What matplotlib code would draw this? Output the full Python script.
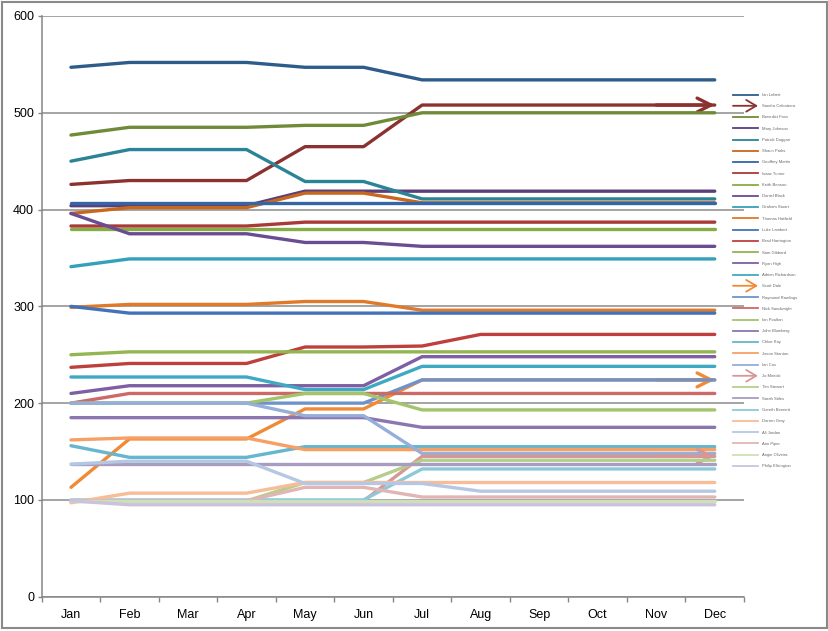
import matplotlib
matplotlib.use("Agg")
import matplotlib.pyplot as plt
from matplotlib.lines import Line2D
from matplotlib.patches import FancyArrowPatch, Rectangle
from matplotlib.legend_handler import HandlerBase

months = ["Jan", "Feb", "Mar", "Apr", "May", "Jun", "Jul", "Aug", "Sep", "Oct", "Nov", "Dec"]

names = ["Ian Lebert", "Sandra Calcaterra", "Benedict Foss", "Mary Johnson", "Patrick Duggan",
         "Shaun Parks", "Geoffrey Martin", "Isaac Turner", "Keith Benson", "Daniel Black",
         "Graham Stuart", "Thomas Hatfield", "Luke Lambert", "Brad Harrington", "Sam Gibbard",
         "Ryan High", "Adrian Richardson", "Scott Dale", "Raymond Rawlings", "Nick Sandwright",
         "Ian Poulton", "John Blumberg", "Chloe Kay", "Jason Stanton", "Ian Cox",
         "Jo Mirecki", "Tim Stewart", "Sarah Stiles", "Gareth Bennett", "Darren Gray",
         "Ali Jordan", "Ann Piper", "Angie Oliveira", "Philip Ellsington"]

s01 = [547, 552, 552, 552, 547, 547, 534, 534, 534, 534, 534, 534]
s02 = [426, 430, 430, 430, 465, 465, 508, 508, 508, 508, 508, 508]
s03 = [477, 485, 485, 485, 487, 487, 500, 500, 500, 500, 500, 500]
s04 = [404, 404, 404, 404, 419, 419, 419, 419, 419, 419, 419, 419]
s05 = [450, 462, 462, 462, 429, 429, 411, 411, 411, 411, 411, 411]
s06 = [396, 402, 402, 402, 417, 417, 407, 407, 407, 407, 407, 407]
s07 = [407, 407, 407, 407, 407, 407, 407, 407, 407, 407, 407, 407]
s08 = [383, 383, 383, 383, 387, 387, 387, 387, 387, 387, 387, 387]
s09 = [380, 380, 380, 380, 380, 380, 380, 380, 380, 380, 380, 380]
s10 = [396, 375, 375, 375, 366, 366, 362, 362, 362, 362, 362, 362]
s11 = [341, 349, 349, 349, 349, 349, 349, 349, 349, 349, 349, 349]
s12 = [299, 302, 302, 302, 305, 305, 296, 296, 296, 296, 296, 296]
s13 = [300, 293, 293, 293, 293, 293, 293, 293, 293, 293, 293, 293]
s14 = [237, 241, 241, 241, 258, 258, 259, 271, 271, 271, 271, 271]
s15 = [250, 253, 253, 253, 253, 253, 253, 253, 253, 253, 253, 253]
s16 = [210, 218, 218, 218, 218, 218, 248, 248, 248, 248, 248, 248]
s17 = [227, 227, 227, 227, 214, 214, 238, 238, 238, 238, 238, 238]
s18 = [113, 163, 163, 163, 194, 194, 224, 224, 224, 224, 224, 224]
s19 = [200, 200, 200, 200, 200, 200, 224, 224, 224, 224, 224, 224]
s20 = [200, 210, 210, 210, 210, 210, 210, 210, 210, 210, 210, 210]
s21 = [200, 200, 200, 200, 210, 210, 193, 193, 193, 193, 193, 193]
s22 = [185, 185, 185, 185, 185, 185, 175, 175, 175, 175, 175, 175]
s23 = [156, 144, 144, 144, 155, 155, 155, 155, 155, 155, 155, 155]
s24 = [162, 164, 164, 164, 152, 152, 152, 152, 152, 152, 152, 152]
s25 = [200, 200, 200, 200, 187, 187, 148, 148, 148, 148, 148, 148]
s26 = [99, 99, 99, 99, 99, 99, 145, 145, 145, 145, 145, 145]
s27 = [99, 99, 99, 99, 118, 118, 141, 141, 141, 141, 141, 141]
s28 = [137, 137, 137, 137, 137, 137, 137, 137, 137, 137, 137, 137]
s29 = [100, 100, 100, 100, 100, 100, 132, 132, 132, 132, 132, 132]
s30 = [97, 107, 107, 107, 118, 118, 118, 118, 118, 118, 118, 118]
s31 = [137, 140, 140, 140, 117, 117, 117, 109, 109, 109, 109, 109]
s32 = [99, 99, 99, 99, 113, 113, 103, 103, 103, 103, 103, 103]
s33 = [99, 99, 99, 99, 99, 99, 99, 99, 99, 99, 99, 99]
s34 = [99, 95, 95, 95, 95, 95, 95, 95, 95, 95, 95, 95]

series = [s01, s02, s03, s04, s05, s06, s07, s08, s09, s10, s11, s12, s13, s14, s15, s16, s17,
          s18, s19, s20, s21, s22, s23, s24, s25, s26, s27, s28, s29, s30, s31, s32, s33, s34]

colors = ["#2E5C8A", "#8B3230", "#6F8B38", "#5A3F7A", "#2B8496", "#C8681E", "#3466A5",
          "#A83A37", "#86AD45", "#6A4C93", "#35A0BA", "#E07A28", "#4472B8", "#BE403D",
          "#93B552", "#7E5FA3", "#3FA9C4", "#F28A35", "#6E93CC", "#CC6A68", "#A3C46A",
          "#8C76B0", "#65B6CE", "#F7A065", "#96AEDA", "#D69795", "#B5CE8B", "#A99CC1",
          "#8DC8DA", "#F8BC98", "#B6C7E3", "#E1B5B4", "#CFE0B8", "#CBC2DD"]

arrow_series = {1, 17, 25}

plt.rcParams['font.family'] = ['Liberation Sans', 'DejaVu Sans']

fig = plt.figure(figsize=(8.29, 6.31), dpi=100)
ax = fig.add_axes([41.7 / 829, 1 - 596.7 / 631, (744 - 41.7) / 829, (596.7 - 16) / 631])

x = list(range(len(months)))
LW = 2.4
for i, (vals, c) in enumerate(zip(series, colors)):
    ax.plot(x, vals, color=c, lw=LW, solid_capstyle='round', solid_joinstyle='round', zorder=3 + i * 0.01)
    if i in arrow_series:
        ax.annotate("", xy=(x[-1], vals[-1]), xytext=(x[-2], vals[-2]),
                    arrowprops=dict(arrowstyle='->,head_length=0.5,head_width=0.25', lw=LW,
                                    color=c, mutation_scale=20, shrinkA=0, shrinkB=0),
                    zorder=3 + i * 0.01)

ax.set_xlim(-0.5, 11.5)
ax.set_ylim(0, 600)
ax.set_yticks(range(0, 601, 100))
ax.grid(axis='y', color='#8C8C8C', lw=1.1, zorder=1)
ax.set_axisbelow(True)

ax.set_xticks([i - 0.5 for i in range(13)])
ax.set_xticklabels([])
ax.set_xticks(x, minor=True)
ax.set_xticklabels(months, minor=True)
ax.tick_params(axis='x', which='major', length=3.5, width=1, color='#868686', direction='out')
ax.tick_params(axis='x', which='minor', length=0, pad=9, labelsize=9)
ax.tick_params(axis='y', length=3, width=1, color='#868686', pad=2.5, labelsize=9)

for side in ['top', 'right']:
    ax.spines[side].set_visible(False)
for side in ['left', 'bottom']:
    ax.spines[side].set_color('#868686')
    ax.spines[side].set_linewidth(1.1)


class HandlerArrow(HandlerBase):
    def create_artists(self, legend, orig_handle, xdescent, ydescent, width, height, fontsize, trans):
        y = height / 2 - ydescent
        p = FancyArrowPatch((-xdescent, y), (width - xdescent, y),
                            arrowstyle='->,head_length=0.6,head_width=0.35',
                            mutation_scale=12, color=orig_handle.get_color(),
                            lw=orig_handle.get_linewidth(), transform=trans,
                            shrinkA=0, shrinkB=0)
        return [p]


handles = []
hmap = {}
for i, c in enumerate(colors):
    h = Line2D([], [], color=c, lw=1.3)
    handles.append(h)
    if i in arrow_series:
        hmap[h] = HandlerArrow()

leg = fig.legend(handles, names, loc='upper left', bbox_to_anchor=(733 / 829, 1 - 93 / 631),
                 bbox_transform=fig.transFigure, frameon=False, fontsize=3,
                 handlelength=6.0, handletextpad=1.0, labelspacing=1.74,
                 borderpad=0, borderaxespad=0, handler_map=hmap)
for t in leg.get_texts():
    t.set_color('#666666')

fig.add_artist(Rectangle((0.002, 0.004), 0.995, 0.993, transform=fig.transFigure,
                         fill=False, edgecolor='#8A8A8A', lw=1.5))

fig.savefig("out.png", dpi=100)
